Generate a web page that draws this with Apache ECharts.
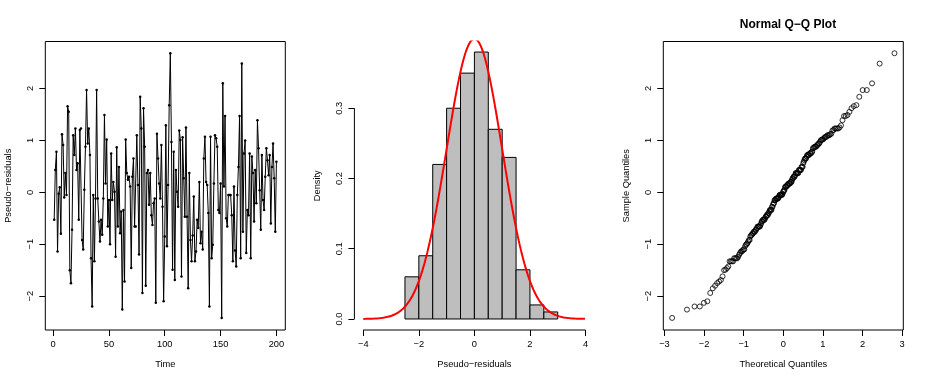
<!DOCTYPE html>
<html>
<head>
<meta charset="utf-8">
<script src="https://cdn.jsdelivr.net/npm/echarts@6/dist/echarts.min.js"></script>
<style>
  html,body{margin:0;padding:0;background:#fff;}
  #main{width:926px;height:382px;}
</style>
</head>
<body>
<div id="main"></div>
<script>
// pseudo-residuals (t = 1..200)
var residuals = [
  -0.53, 0.43, 0.78,-1.14,-0.03, 0.10,-0.80, 1.12, 0.91,-0.10,
   0.37,-0.05, 1.66, 1.55,-1.50,-1.75,-0.72, 1.10, 0.72, 1.23,
   0.43, 0.56,-0.53, 1.20, 1.23,-0.92,-1.10, 0.05, 0.88, 1.97,
   0.94, 1.23, 0.72,-1.27,-2.20,-0.05,-1.33,-0.12, 1.97,-0.12,
  -0.56,-0.95,-0.53,-0.82,-0.12, 1.49, 0.17, 1.02,-0.66,-0.15,
  -1.00, 0.75,-0.15, 0.20, 0.01,-1.24, 0.87,-0.66, 0.49,-0.79,
  -0.37,-2.26,-0.34,-1.72, 1.02, 0.37, 0.24, 0.30, 0.11,-1.46,
   0.30, 0.65,-0.66,-0.66, 1.10, 0.14,-1.20, 1.84, 1.23,-1.94,
   1.62, 0.88,-1.80, 0.37, 0.43,-0.24, 0.37,-0.44,-0.63,-0.21,
  -0.12,-2.13, 1.13, 0.65, 0.17,-0.12, 0.91,-0.28,-2.10,-0.85,
   1.29,-1.04, 0.14, 1.68, 2.68, 0.97,-1.49, 0.78,-1.69, 0.43,
   0.01,-0.28, 1.19, 1.01,-1.62, 1.06, 0.27,-0.47, 1.25,-0.47,
  -1.85, 0.37,-0.92,-1.33,-0.83,-0.08,-1.33,-1.14,-0.53,-0.69,
   0.20,-0.98,-0.76,-1.10, 0.65, 1.07, 0.20, 0.14,-0.40,-2.20,
   1.07,-1.27,-1.01, 0.17, 1.10, 1.04, 0.88,-0.34,-0.40, 0.17,
  -2.42, 2.10, 0.11, 1.47,-0.50,-0.66,-0.05,-0.05,-0.05,-0.44,
  -1.33, 0.11,-1.12,-1.43,-0.05, 0.49, 1.47,-1.27, 2.48,-0.76,
   0.75, 1.00,-1.17,-0.34,-0.44, 0.75,-1.27, 0.69, 0.37,-0.56,
   0.43,-0.21, 1.39, 0.85, 0.04,-0.72, 0.72,-0.15,-0.34, 0.30,
   0.85, 0.62, 0.33, 0.72,-0.60, 0.49, 0.94, 0.27,-0.76, 0.59
];

// histogram: bin edges and densities
var histBreaks = [-2.5,-2,-1.5,-1,-0.5,0,0.5,1,1.5,2,2.5,3];
var histDensity = [0.06,0.09,0.22,0.30,0.35,0.38,0.27,0.23,0.07,0.02,0.01];

// tick labels
var timeTicks = [0,50,100,150,200];
var residTicks = [-2,-1,0,1,2];
var midXTicks = [-4,-2,0,2,4];
var densTicks = [0,0.1,0.2,0.3];
var qqXTicks = [-3,-2,-1,0,1,2,3];

// axis limits (R's 4% extension)
var timeLim = [-6.96, 207.96];
var residLim = [-2.653, 2.906];
var midXLim = [-4.32, 4.32];
var densLim = [-0.0157, 0.395];
var qqXLim = [-3.03, 3.03];

var FONT = 'Liberation Sans, Arial, Helvetica, sans-serif';
var FS = 9.3;

function minus(v){
    return String(v).replace('-', '\u2212');
}

// normal quantile (Acklam)
function qnorm(p){
    var a=[-3.969683028665376e+01,2.209460984245205e+02,-2.759285104469687e+02,1.383577518672690e+02,-3.066479806614716e+01,2.506628277459239e+00];
    var b=[-5.447609879822406e+01,1.615858368580409e+02,-1.556989798598866e+02,6.680131188771972e+01,-1.328068155288572e+01];
    var c=[-7.784894002430293e-03,-3.223964580411365e-01,-2.400758277161838e+00,-2.549671010331963e+00,4.374664141464968e+00,2.938163982698783e+00];
    var d=[7.784695709041462e-03,3.224671290700398e-01,2.445134137142996e+00,3.754408661907416e+00];
    var pl=0.02425,q,r;
    if(p<pl){
        q=Math.sqrt(-2*Math.log(p));
        return (((((c[0]*q+c[1])*q+c[2])*q+c[3])*q+c[4])*q+c[5])/((((d[0]*q+d[1])*q+d[2])*q+d[3])*q+1);
    }
    if(p>1-pl){
        q=Math.sqrt(-2*Math.log(1-p));
        return -(((((c[0]*q+c[1])*q+c[2])*q+c[3])*q+c[4])*q+c[5])/((((d[0]*q+d[1])*q+d[2])*q+d[3])*q+1);
    }
    q=p-0.5;r=q*q;
    return (((((a[0]*r+a[1])*r+a[2])*r+a[3])*r+a[4])*r+a[5])*q/(((((b[0]*r+b[1])*r+b[2])*r+b[3])*r+b[4])*r+1);
}

function dnorm(x){
    return Math.exp(-x*x/2)/Math.sqrt(2*Math.PI);
}

// series data
var timeData = residuals.map(function(v,i){ return [i+1, v]; });

var histData = histDensity.map(function(d,i){ return [histBreaks[i], histBreaks[i+1], d]; });

var curveData = [];
for(var k=0;k<=400;k++){
    var x = -4 + k*0.02;
    curveData.push([x, dnorm(x)]);
}

var sorted = residuals.slice().sort(function(a,b){ return a-b; });
var n = sorted.length;
var qqData = sorted.map(function(v,i){ return [qnorm((i+0.5)/n), v]; });

// axis builder
function axis(lim, ticks, name, gap, fmt){
    return {
        type:'value', min:lim[0], max:lim[1],
        axisLine:{show:false, onZero:false},
        splitLine:{show:false},
        axisTick:{show:true, customValues:ticks, length:6, lineStyle:{color:'#000', width:1}},
        axisLabel:{customValues:ticks, margin:10, color:'#000', fontFamily:FONT, fontSize:FS,
            formatter: fmt || function(v){ return minus(v); }},
        name:name, nameLocation:'middle', nameGap:gap,
        nameTextStyle:{color:'#000', fontFamily:FONT, fontSize:FS}
    };
}

var grids = [
    {left:45.3, top:41.5, width:240, height:288.5, show:true, borderColor:'#000', borderWidth:1, backgroundColor:'transparent'},
    {left:354.4, top:41.5, width:240, height:288.5, show:false},
    {left:663.3, top:41.5, width:240, height:288.5, show:true, borderColor:'#000', borderWidth:1, backgroundColor:'transparent'}
];

var xAxes = [
    axis(timeLim, timeTicks, 'Time', 30),
    axis(midXLim, midXTicks, 'Pseudo\u2212residuals', 30),
    axis(qqXLim, qqXTicks, 'Theoretical Quantiles', 30)
];
xAxes.forEach(function(a,i){ a.gridIndex=i; a.position='bottom'; });

var yAxes = [
    axis(residLim, residTicks, 'Pseudo\u2212residuals', 32),
    axis(densLim, densTicks, 'Density', 32, function(v){ return v.toFixed(1); }),
    axis(residLim, residTicks, 'Sample Quantiles', 32)
];
yAxes.forEach(function(a,i){ a.gridIndex=i; a.position='left'; a.axisLabel.rotate=90; });

var option = {
    animation:false,
    backgroundColor:'#fff',
    title:{
        text:'Normal Q\u2212Q Plot',
        left:783, top:14, textAlign:'center',
        textStyle:{fontFamily:FONT, fontSize:12, fontWeight:'bold', color:'#000'}
    },
    grid:grids,
    xAxis:xAxes,
    yAxis:yAxes,
    series:[
        {
            type:'line', xAxisIndex:0, yAxisIndex:0,
            data:timeData,
            symbol:'circle', symbolSize:2.5, showAllSymbol:true,
            lineStyle:{color:'#000', width:1},
            itemStyle:{color:'#000'}
        },
        {
            type:'custom', xAxisIndex:1, yAxisIndex:1,
            data:histData,
            renderItem:function(params, api){
                var p0 = api.coord([api.value(0), 0]);
                var p1 = api.coord([api.value(1), api.value(2)]);
                return {
                    type:'rect',
                    shape:{x:p0[0], y:p1[1], width:p1[0]-p0[0], height:p0[1]-p1[1]},
                    style:{fill:'#bebebe', stroke:'#000', lineWidth:1}
                };
            }
        },
        {
            type:'line', xAxisIndex:1, yAxisIndex:1,
            data:curveData, showSymbol:false, clip:true, z:5,
            lineStyle:{color:'#ff0000', width:2}
        },
        // R-style axis lines for the histogram (only between end ticks)
        {
            type:'line', xAxisIndex:1, yAxisIndex:1, clip:false, showSymbol:false, silent:true,
            data:[[midXTicks[0], densLim[0]], [midXTicks[midXTicks.length-1], densLim[0]]],
            lineStyle:{color:'#000', width:1}
        },
        {
            type:'line', xAxisIndex:1, yAxisIndex:1, clip:false, showSymbol:false, silent:true,
            data:[[midXLim[0], densTicks[0]], [midXLim[0], densTicks[densTicks.length-1]]],
            lineStyle:{color:'#000', width:1}
        },
        {
            type:'scatter', xAxisIndex:2, yAxisIndex:2,
            data:qqData, symbol:'circle', symbolSize:5,
            itemStyle:{color:'transparent', borderColor:'#000', borderWidth:1}
        }
    ]
};

var chart = echarts.init(document.getElementById('main'));
chart.setOption(option);
</script>
</body>
</html>
